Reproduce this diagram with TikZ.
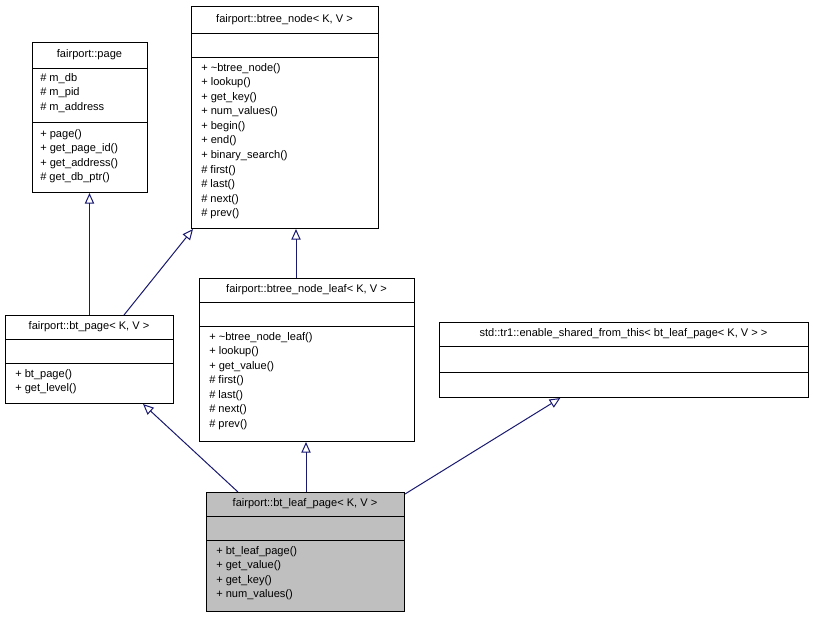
\documentclass[tikz,border=0pt]{standalone}
\usepackage{fontspec}
\setmainfont{Liberation Sans}
\usetikzlibrary{arrows.meta}
\definecolor{edge}{HTML}{191970}
\definecolor{leafgrey}{HTML}{BFBFBF}
\tikzset{
 box/.style={draw=black, line width=0.75pt, fill=white, inner sep=0, anchor=north west},
 txt/.style={inner sep=0, anchor=north west, align=left, font=\fontsize{8.3}{10.9}\selectfont},
 ttl/.style={inner sep=0, anchor=center, font=\fontsize{8.3}{10.9}\selectfont},
 inh/.style={draw=edge, line width=0.75pt, -{Triangle[open, length=8pt, width=7pt]}}
}
\newcommand{\cls}[8]{% name, x1, y1, x2, y2, div1, div2, fill
 \node[box, fill=#8, minimum width={(#4-#2)*0.75pt}, minimum height={(#5-#3)*0.75pt}] (#1) at (#2,#3) {};
 \draw[line width=0.75pt] (#2,#6) -- (#4,#6) (#2,#7) -- (#4,#7);
}
\begin{document}
\begin{tikzpicture}[x=0.75pt,y=-0.75pt]
\useasboundingbox (0,0) rectangle (813,619);
% page
\cls{page}{32}{42}{147}{192}{68}{122}{white}
\node[ttl] (paget) at (89.5,55) {fairport::page};
\node[txt] (pagea) at (40,73) {\# m\_db\\\# m\_pid\\\# m\_address};
\node[txt] (pagem) at (40,129) {+ page()\\+ get\_page\_id()\\+ get\_address()\\\# get\_db\_ptr()};
% btree_node
\cls{bn}{191}{6}{378}{228}{33}{57}{white}
\node[ttl] (bnt) at (284.5,19.5) {fairport::btree\_node< K, V >};
\node[txt] (bnm) at (201,63) {+ \textasciitilde btree\_node()\\+ lookup()\\+ get\_key()\\+ num\_values()\\+ begin()\\+ end()\\+ binary\_search()\\\# first()\\\# last()\\\# next()\\\# prev()};
% bt_page
\cls{bp}{5}{315}{173}{403}{339}{363}{white}
\node[ttl] (bpt) at (89,327) {fairport::bt\_page< K, V >};
\node[txt] (bpm) at (15,369) {+ bt\_page()\\+ get\_level()};
% btree_node_leaf
\cls{bl}{199}{278}{414}{441}{302}{326}{white}
\node[ttl] (blt) at (306.5,290) {fairport::btree\_node\_leaf< K, V >};
\node[txt] (blm) at (209,332) {+ \textasciitilde btree\_node\_leaf()\\+ lookup()\\+ get\_value()\\\# first()\\\# last()\\\# next()\\\# prev()};
% enable_shared
\cls{es}{439}{322}{808}{397}{346}{372}{white}
\node[ttl] (est) at (623.5,334) {std::tr1::enable\_shared\_from\_this< bt\_leaf\_page< K, V > >};
% bt_leaf_page
\cls{lp}{206}{492}{404}{611}{516}{540}{leafgrey}
\node[ttl] (lpt) at (305,504) {fairport::bt\_leaf\_page< K, V >};
\node[txt] (lpm) at (216,546) {+ bt\_leaf\_page()\\+ get\_value()\\+ get\_key()\\+ num\_values()};
% inheritance
\draw[inh] (bp.north -| paget) -- (page.south -| paget);
\draw[inh] ([xshift=89.25pt]bp.north west) -- ([xshift=1.5pt]bn.south west);
\draw[inh] ([xshift=72.75pt]bl.north west) -- ([xshift=78.75pt]bn.south west);
\draw[inh] ([xshift=24pt]lp.north west) -- ([xshift=103.5pt]bp.south west);
\draw[inh] ([xshift=75pt]lp.north west) -- ([xshift=80.25pt]bl.south west);
\draw[inh] ([yshift=-1.5pt]lp.north east) -- ([xshift=91pt]es.south west);
\end{tikzpicture}
\end{document}
